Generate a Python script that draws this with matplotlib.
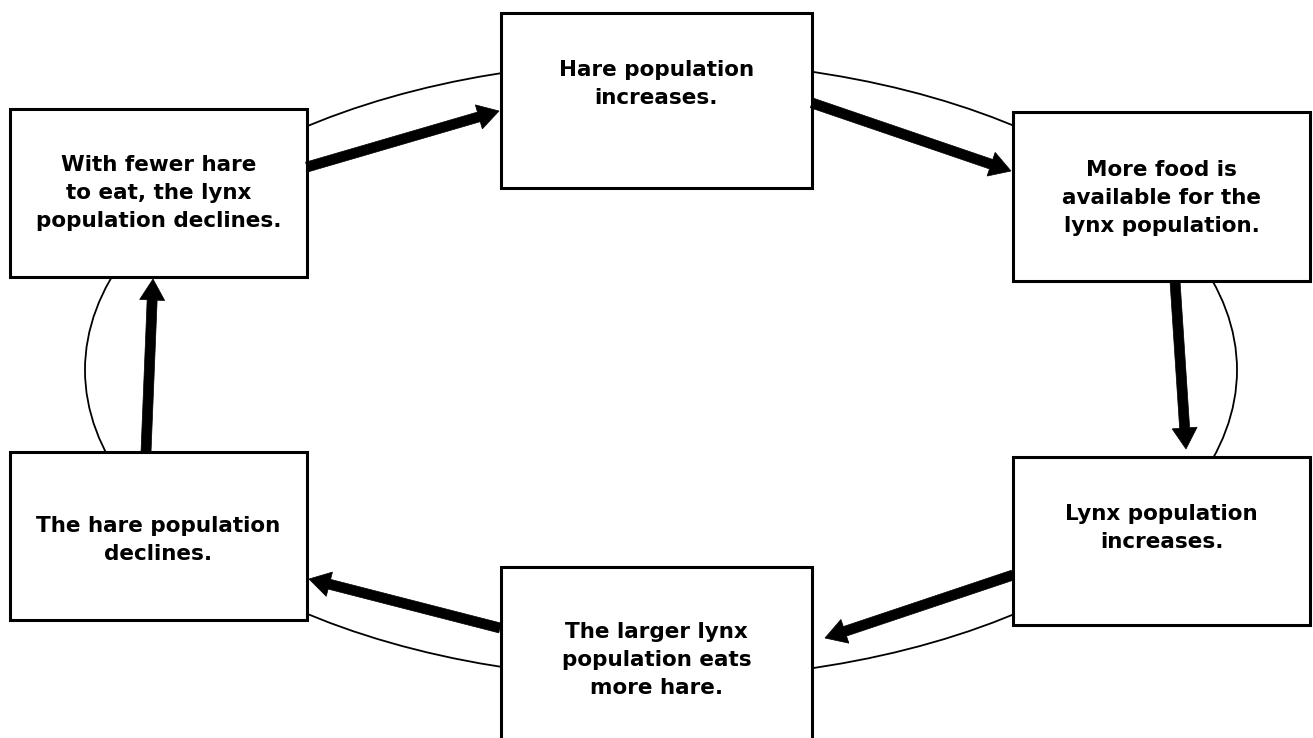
import matplotlib.pyplot as plt
from matplotlib.patches import Rectangle, Ellipse

# text of the six stages, clockwise from the top
labels = [
    "Hare population\nincreases.",
    "More food is\navailable for the\nlynx population.",
    "Lynx population\nincreases.",
    "The larger lynx\npopulation eats\nmore hare.",
    "The hare population\ndeclines.",
    "With fewer hare\nto eat, the lynx\npopulation declines.",
]

# box layout in pixels: x0, y0, x1, y1, text centre y
boxes = [
    (501, 13, 812, 188, 84),
    (1013, 112, 1310, 281, 198),
    (1013, 457, 1310, 625, 528),
    (501, 567, 812, 760, 660),
    (10, 452, 307, 620, 540),
    (10, 109, 307, 277, 193),
]

# arrows: tail x, tail y, tip x, tip y
arrows = [
    (307, 167, 499, 111),
    (812, 103, 1011, 171),
    (1175, 281, 1186, 449),
    (1013, 575, 825, 638),
    (500, 628, 309, 579),
    (146, 452, 153, 279),
]

fig = plt.figure(figsize=(13.13, 7.38), dpi=100)
ax = fig.add_axes([0, 0, 1, 1])
ax.set_xlim(0, 1313)
ax.set_ylim(738, 0)
ax.axis("off")

ax.add_patch(Ellipse((661, 370), 1152, 618, fill=False, ec="black", lw=1.3, zorder=1))

for (tx, ty, hx, hy) in arrows:
    ax.arrow(tx, ty, hx - tx, hy - ty, width=10, head_width=25, head_length=21,
             length_includes_head=True, fc="black", ec="black", lw=0.5, zorder=3)

for lab, (x0, y0, x1, y1, cy) in zip(labels, boxes):
    ax.add_patch(Rectangle((x0, y0), x1 - x0, y1 - y0, fc="white", ec="black",
                           lw=2.2, zorder=2))
    ax.text((x0 + x1) / 2, cy, lab, ha="center", va="center", fontsize=15.5,
            fontweight="bold", family="DejaVu Sans", linespacing=1.5, zorder=4)

fig.savefig("out.png", dpi=100)
